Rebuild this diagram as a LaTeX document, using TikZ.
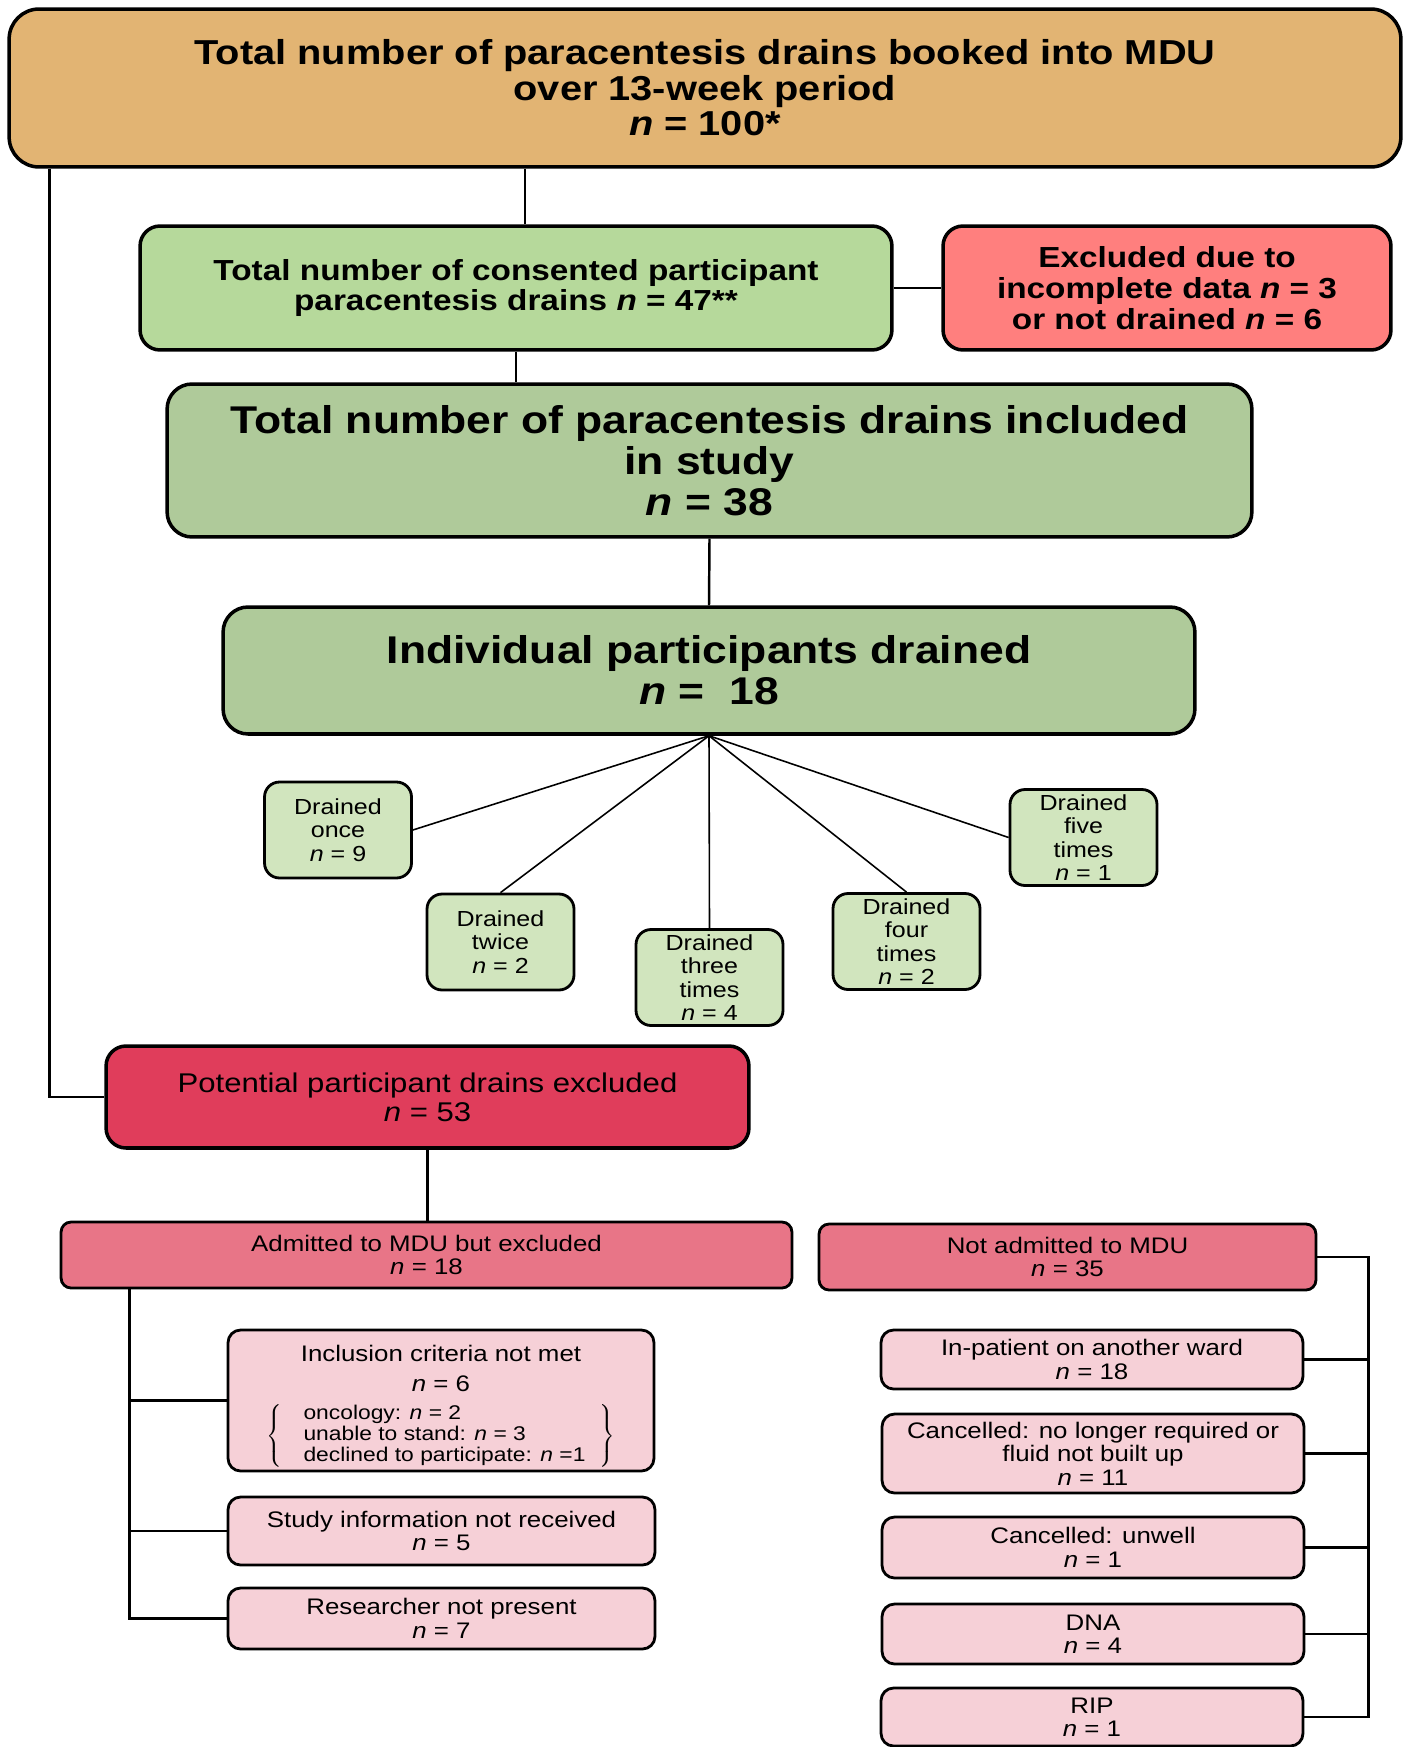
\documentclass[tikz,border=0pt]{standalone}
\usepackage{fontspec}
\setmainfont{Liberation Sans}[FakeStretch=1.15]
\newcommand{\nn}{\textit{n}}
\definecolor{bookedtan}{HTML}{E2B473}
\definecolor{consgreen}{HTML}{B6D99B}
\definecolor{exclred}{HTML}{FF7F7E}
\definecolor{studygreen}{HTML}{AFCA9A}
\definecolor{drainedgreen}{HTML}{D1E5BE}
\definecolor{potred}{HTML}{E03D5B}
\definecolor{admred}{HTML}{E87587}
\definecolor{reasonpink}{HTML}{F6D0D7}
\begin{document}
\begin{tikzpicture}[x=0.02cm,y=-0.02cm,
  box/.style={draw=black, line width=2pt, rounded corners=0.4cm, align=center, inner sep=0pt},
  boldbox/.style={box, font=\bfseries\fontsize{16.5}{17.6}\selectfont},
  bigbox/.style={box, rounded corners=0.5cm, font=\bfseries\fontsize{22}{23.4}\selectfont},
  drainbox/.style={box, line width=1.6pt, rounded corners=0.3cm, fill=drainedgreen,
    minimum width=2.94cm, minimum height=1.92cm, font=\fontsize{12.4}{13.3}\selectfont},
  groupbox/.style={box, line width=1.6pt, rounded corners=0.2cm, fill=admred,
    minimum height=1.32cm, font=\fontsize{12.8}{13.3}\selectfont},
  reasonbox/.style={box, line width=1.6pt, rounded corners=0.25cm, fill=reasonpink,
    font=\fontsize{12.8}{13.3}\selectfont},
  link/.style={line width=1.4pt},
  fan/.style={line width=0.9pt}]
\useasboundingbox (0,0) rectangle (1408,1747);

% top of the flow
\node[bigbox, rounded corners=0.6cm, fill=bookedtan, minimum width=27.84cm, minimum height=3.16cm,
  font=\bfseries\fontsize{19.7}{20.2}\selectfont] (booked) at (705,88)
  {Total number of paracentesis drains booked into MDU\\over 13-week period\\\nn{} = 100*};
\node[boldbox, fill=consgreen, minimum width=15.04cm, minimum height=2.48cm] (consented) at (516,288)
  {Total number of consented participant\\paracentesis drains \nn{} = 47**};
\node[boldbox, fill=exclred, minimum width=8.96cm, minimum height=2.48cm] (incomplete) at (1167,288)
  {Excluded due to\\incomplete data \nn{} = 3\\or not drained \nn{} = 6};
\node[bigbox, fill=studygreen, minimum width=21.7cm, minimum height=3.06cm] (included) at (709.5,460.5)
  {Total number of paracentesis drains included\\in study\\\nn{} = 38};
\node[bigbox, fill=studygreen, minimum width=19.44cm, minimum height=2.54cm] (individual) at (709,670.5)
  {Individual participants drained\\\nn{} =\ \ 18};

% times drained
\node[drainbox] (once) at (338,830) {Drained\\once\\\nn{} = 9};
\node[drainbox] (twice) at (500.5,942) {Drained\\twice\\\nn{} = 2};
\node[drainbox] (three) at (709.5,977.5) {Drained\\three\\times\\\nn{} = 4};
\node[drainbox] (four) at (906.5,941.5) {Drained\\four\\times\\\nn{} = 2};
\node[drainbox] (five) at (1083.5,837.5) {Drained\\five\\times\\\nn{} = 1};

% excluded drains
\node[box, fill=potred, minimum width=12.86cm, minimum height=2.04cm,
  font=\fontsize{15.4}{16.4}\selectfont] (potential) at (427.5,1097)
  {Potential participant drains excluded\\\nn{} = 53};
\node[groupbox, minimum width=14.62cm] (admitted) at (426.5,1255)
  {Admitted to MDU but excluded\\\nn{} = 18};
\node[groupbox, minimum width=9.94cm] (notadmitted) at (1067.5,1257)
  {Not admitted to MDU\\\nn{} = 35};

\node[reasonbox, minimum width=8.52cm, minimum height=2.82cm] (inclusion) at (441,1400.5)
  {\rule{0pt}{16pt}Inclusion criteria not met\\[4pt]\nn{} = 6\\[6pt]
   {\fontsize{11.3}{12}\selectfont$\left\{\hspace{12pt}\begin{tabular}{@{}l@{}}
   oncology: \nn{} = 2\\ unable to stand: \nn{} = 3\\ declined to participate: \nn{} =1
   \end{tabular}\hspace{8pt}\right\}$}};
\node[reasonbox, minimum width=8.54cm, minimum height=1.36cm] (studyinfo) at (441.5,1531)
  {Study information not received\\\nn{} = 5};
\node[reasonbox, minimum width=8.54cm, minimum height=1.22cm] (researcher) at (441.5,1618.5)
  {Researcher not present\\\nn{} = 7};

\node[reasonbox, minimum width=8.44cm, minimum height=1.18cm] (inpatient) at (1092,1359.5)
  {In-patient on another ward\\\nn{} = 18};
\node[reasonbox, minimum width=8.44cm, minimum height=1.58cm] (nolonger) at (1093,1453.5)
  {Cancelled: no longer required or\\fluid not built up\\\nn{} = 11};
\node[reasonbox, minimum width=8.44cm, minimum height=1.22cm] (unwell) at (1093,1547.5)
  {Cancelled: unwell\\\nn{} = 1};
\node[reasonbox, minimum width=8.44cm, minimum height=1.2cm] (dna) at (1093,1634)
  {DNA\\\nn{} = 4};
\node[reasonbox, minimum width=8.44cm, minimum height=1.16cm] (rip) at (1092,1717)
  {RIP\\\nn{} = 1};

% connectors
\draw[link] ([xshift=0.18cm]consented.north) -- ([xshift=0.18cm]consented.north |- booked.south);
\draw[link] (consented.east) -- (incomplete.west);
\draw[link] (consented.south) -- (consented.south |- included.north);
\draw[link] (included.south) -- (individual.north);

\draw[fan] (individual.south) -- (once.east);
\draw[fan] (individual.south) -- (twice.north);
\draw[fan] (individual.south) -- (three.north);
\draw[fan] (individual.south) -- (four.north);
\draw[fan] (individual.south) -- (five.west);

\draw[link] ([xshift=0.84cm]booked.south west) |- (potential.west);
\draw[link] (potential.south) -- (potential.south |- admitted.north);

\coordinate (trunkL) at ([xshift=1.4cm]admitted.south west);
\draw[link] (trunkL) |- (researcher.west);
\draw[link] (inclusion.west) -- (inclusion.west -| trunkL);
\draw[link] (studyinfo.west) -- (studyinfo.west -| trunkL);

\coordinate (trunkR) at ([xshift=1.02cm]notadmitted.east);
\draw[link] (notadmitted.east) -- (trunkR) |- (rip.east);
\foreach \reason in {inpatient,nolonger,unwell,dna}
  \draw[link] (\reason.east) -- (\reason.east -| trunkR);
\end{tikzpicture}
\end{document}
